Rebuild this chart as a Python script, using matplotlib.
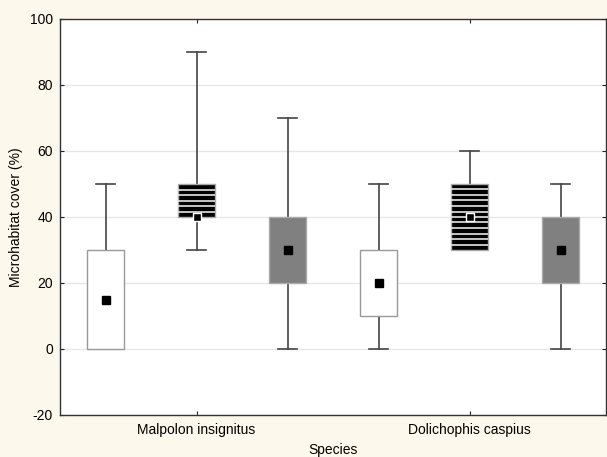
import matplotlib
matplotlib.use("Agg")
import matplotlib.pyplot as plt
import numpy as np

plt.rcParams['font.family'] = ['Liberation Sans', 'DejaVu Sans']
plt.rcParams['axes.unicode_minus'] = False

# data, three boxes per species
species = ["Malpolon insignitus", "Dolichophis caspius"]
box_q1 = [0, 40, 20, 10, 30, 20]
box_q3 = [30, 50, 40, 30, 50, 40]
whis_lo = [0, 30, 0, 0, 30, 0]
whis_hi = [50, 90, 70, 50, 60, 50]
centre = [15, 40, 30, 20, 40, 30]
yticks = [-20, 0, 20, 40, 60, 80, 100]

# styles: plain white, black striped, solid gray
kinds = ["white", "striped", "gray", "white", "striped", "gray"]

fig = plt.figure(figsize=(6.07, 4.57), dpi=100)
fig.patch.set_facecolor("#fdf8ec")
ax = fig.add_axes([60 / 607, 42 / 457, 546 / 607, 396 / 457])
ax.set_facecolor("white")

pos = np.arange(len(box_q1)) + 0.5
stats = []
for i in range(len(box_q1)):
    stats.append(dict(med=centre[i], q1=box_q1[i], q3=box_q3[i],
                      whislo=whis_lo[i], whishi=whis_hi[i], fliers=[]))

bp = ax.bxp(stats, positions=pos, widths=0.4, patch_artist=True,
            showfliers=False,
            whiskerprops=dict(color="#444444", lw=1.2),
            capprops=dict(color="#444444", lw=1.2),
            medianprops=dict(lw=0),
            boxprops=dict(lw=1.0),
            capwidths=0.2, manage_ticks=False)

for i, b in enumerate(bp["boxes"]):
    b.set_zorder(3)
    if kinds[i] == "white":
        b.set_facecolor("white")
        b.set_edgecolor("#999999")
    elif kinds[i] == "gray":
        b.set_facecolor("#808080")
        b.set_edgecolor("#aaaaaa")
    else:
        b.set_facecolor("black")
        b.set_edgecolor("#aaaaaa")
        step = 10 / 6
        ys = np.arange(box_q1[i] + step, box_q3[i] - 0.1, step)
        ax.hlines(ys, pos[i] - 0.2, pos[i] + 0.2, color="#e6e6e6",
                  lw=1.2, zorder=4)

for i in range(len(centre)):
    edge = "white" if kinds[i] == "striped" else "black"
    ax.plot(pos[i], centre[i], marker="s", ms=5.5, mfc="black",
            mec=edge, mew=1.0, zorder=6)

ax.set_xlim(0, 6)
ax.set_ylim(-20, 100)
ax.set_yticks(yticks)
ax.set_xticks([1.5, 4.5])
ax.set_xticklabels(species)
ax.yaxis.grid(True, color="#e6e6e6", lw=0.9)
ax.set_axisbelow(True)
ax.tick_params(direction="in", top=True, right=True, length=3,
               labelsize=10, colors="#222222", labelcolor="black")
ax.tick_params(axis="x", pad=6)
ax.tick_params(axis="y", pad=5)
for s in ax.spines.values():
    s.set_color("#333333")
    s.set_linewidth(1.0)

ax.set_xlabel("Species", fontsize=10, labelpad=4)
ax.set_ylabel("Microhabitat cover (%)", fontsize=10, labelpad=5)

fig.savefig("out.png", dpi=100, facecolor=fig.get_facecolor())
